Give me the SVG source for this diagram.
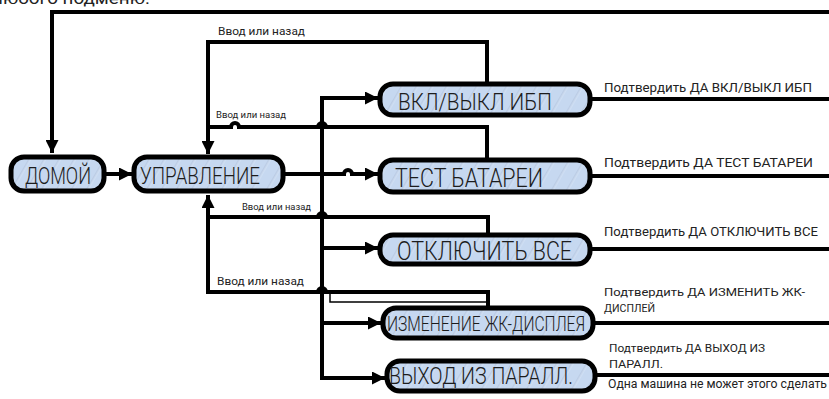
<svg xmlns="http://www.w3.org/2000/svg" width="829" height="399" viewBox="0 0 829 399">
<defs>
<pattern id="hatch" patternUnits="userSpaceOnUse" width="13" height="13" patternTransform="rotate(30)">
<rect width="13" height="13" fill="#c6d8f0"/>
<line x1="1" y1="0" x2="1" y2="13" stroke="#a9bad3" stroke-width="0.8"/>
<line x1="2" y1="0" x2="2" y2="13" stroke="#dbe7f7" stroke-width="0.8"/>
</pattern>
<marker id="arr" viewBox="0 0 10 10" refX="10" refY="5" markerUnits="userSpaceOnUse" markerWidth="13" markerHeight="13" orient="auto">
<path d="M0,0 L10,5 L0,10 z" fill="#000"/>
</marker>
</defs>
<style>
.node rect{fill:url(#hatch);stroke:#000;stroke-width:5}
.nt{font-family:Roboto,"Liberation Sans",sans-serif;font-weight:300;fill:#1c1c1c}
.c{fill:none;stroke:#000;stroke-width:4}
.thin{fill:none;stroke:#000;stroke-width:1.5}
.lbl{font-family:Roboto,"Liberation Sans",sans-serif;fill:#222}
</style>
<rect width="829" height="399" fill="#fff"/>
<text class="lbl" x="-8" y="4" font-size="16" textLength="158" lengthAdjust="spacingAndGlyphs">любого подменю.</text>
<g id="connectors">
<path class="c" d="M829,12 H52 V153" marker-end="url(#arr)"/>
<path class="c" d="M104,174 H132" marker-end="url(#arr)"/>
<path class="c" d="M283,174 H344 a4,4 0 0 1 8,0 H378" marker-end="url(#arr)"/>
<path class="c" d="M322,174 V98 H378" marker-end="url(#arr)"/>
<path class="c" d="M322,174 V378 H385" marker-end="url(#arr)"/>
<path class="c" d="M322,248 H378" marker-end="url(#arr)"/>
<path class="c" d="M322,323 H381" marker-end="url(#arr)"/>
<path class="c" d="M487,84 V42 H208 V154" marker-end="url(#arr)"/>
<path class="c" d="M487,160 V127 H326 a4,4 0 0 0 -8,0 H239 a4,4 0 0 0 -8,0 H208"/>
<path class="c" d="M488,235 V217 H326 a4,4 0 0 0 -8,0 H208"/>
<path class="c" d="M488,308 V292 H326 a4,4 0 0 0 -8,0 H208 V195" marker-end="url(#arr)"/>
<path class="thin" d="M330,294 V302 H488"/>
<path class="c" d="M590,99 H829"/>
<path class="c" d="M590,176 H829"/>
<path class="c" d="M590,249 H829"/>
<path class="c" d="M593,323 H829"/>
<path class="c" d="M595,375 H829"/>
</g>
<g id="edge-labels">
<text class="lbl" x="218" y="35" font-size="11" textLength="87" lengthAdjust="spacingAndGlyphs">Ввод или назад</text>
<text class="lbl" x="216" y="118" font-size="9" textLength="70" lengthAdjust="spacingAndGlyphs">Ввод или назад</text>
<text class="lbl" x="242" y="210" font-size="9" textLength="69" lengthAdjust="spacingAndGlyphs">Ввод или назад</text>
<text class="lbl" x="217" y="285" font-size="11" textLength="87" lengthAdjust="spacingAndGlyphs">Ввод или назад</text>
<text class="lbl" x="604" y="92" font-size="12" textLength="208" lengthAdjust="spacingAndGlyphs">Подтвердить ДА ВКЛ/ВЫКЛ ИБП</text>
<text class="lbl" x="604" y="167" font-size="12" textLength="209" lengthAdjust="spacingAndGlyphs">Подтвердить ДА ТЕСТ БАТАРЕИ</text>
<text class="lbl" x="604" y="236" font-size="12" textLength="214" lengthAdjust="spacingAndGlyphs">Подтвердить ДА ОТКЛЮЧИТЬ ВСЕ</text>
<text class="lbl" x="604" y="296" font-size="11.5" textLength="201" lengthAdjust="spacingAndGlyphs">Подтвердить ДА ИЗМЕНИТЬ ЖК-</text>
<text class="lbl" x="604" y="312" font-size="11.5" textLength="51" lengthAdjust="spacingAndGlyphs">ДИСПЛЕЙ</text>
<text class="lbl" x="609" y="352" font-size="11.5" textLength="156" lengthAdjust="spacingAndGlyphs">Подтвердить ДА ВЫХОД ИЗ</text>
<text class="lbl" x="609" y="368" font-size="11.5" textLength="54" lengthAdjust="spacingAndGlyphs">ПАРАЛЛ.</text>
<text class="lbl" x="608" y="388" font-size="12" textLength="219" lengthAdjust="spacingAndGlyphs">Одна машина не может этого сделать</text>
</g>
<g id="n-home" class="node">
<rect x="11" y="157" width="93" height="34" rx="13"/>
<text class="nt" x="25" y="184" font-size="24" textLength="66" lengthAdjust="spacingAndGlyphs">ДОМОЙ</text>
</g>
<g id="n-control" class="node">
<rect x="134" y="157" width="149" height="34" rx="13"/>
<text class="nt" x="140" y="184" font-size="24" textLength="120" lengthAdjust="spacingAndGlyphs">УПРАВЛЕНИЕ</text>
</g>
<g id="n-onoff" class="node">
<rect x="380" y="84" width="210" height="31" rx="13"/>
<text class="nt" x="398" y="110" font-size="24" textLength="154" lengthAdjust="spacingAndGlyphs">ВКЛ/ВЫКЛ ИБП</text>
</g>
<g id="n-test" class="node">
<rect x="380" y="160" width="210" height="32" rx="13"/>
<text class="nt" x="395" y="187" font-size="26" textLength="148" lengthAdjust="spacingAndGlyphs">ТЕСТ БАТАРЕИ</text>
</g>
<g id="n-off" class="node">
<rect x="380" y="235" width="210" height="29" rx="13"/>
<text class="nt" x="397" y="260" font-size="25" textLength="175" lengthAdjust="spacingAndGlyphs">ОТКЛЮЧИТЬ ВСЕ</text>
</g>
<g id="n-lcd" class="node">
<rect x="383" y="308" width="210" height="30" rx="13"/>
<text class="nt" x="387" y="331" font-size="21" textLength="198" lengthAdjust="spacingAndGlyphs">ИЗМЕНЕНИЕ ЖК-ДИСПЛЕЯ</text>
</g>
<g id="n-exit" class="node">
<rect x="387" y="361" width="208" height="30" rx="13"/>
<text class="nt" x="389" y="384" font-size="24" textLength="184" lengthAdjust="spacingAndGlyphs">ВЫХОД ИЗ ПАРАЛЛ.</text>
</g>
</svg>
